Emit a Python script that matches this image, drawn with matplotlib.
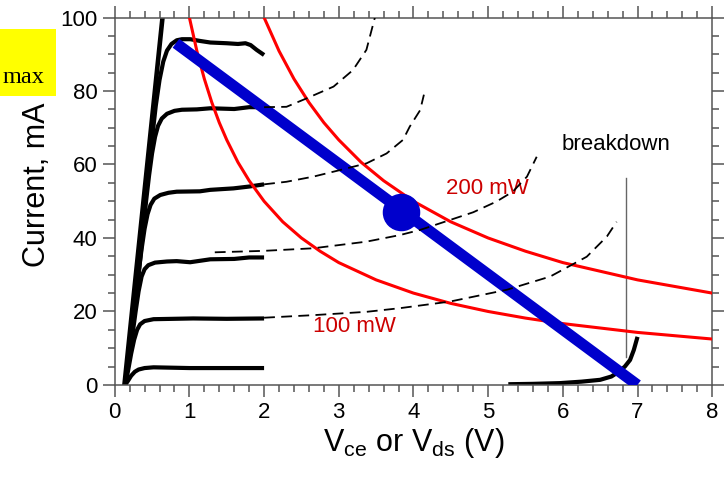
import matplotlib
matplotlib.use("Agg")
import matplotlib.pyplot as plt
from matplotlib.ticker import MultipleLocator
from matplotlib.patches import Rectangle

plt.rcParams['font.family'] = ['Liberation Sans', 'DejaVu Sans']
plt.rcParams['mathtext.fontset'] = 'custom'
plt.rcParams['mathtext.rm'] = 'Liberation Sans'

# measured transistor curves (V, mA)
steep_v = [0.13, 0.64]
steep_i = [0, 100]

c93_v = [0.14, 0.2, 0.26, 0.32, 0.38, 0.44, 0.5, 0.55, 0.6, 0.65, 0.7, 0.76, 0.83, 0.9, 1.01,
         1.15, 1.28, 1.5, 1.65, 1.75, 1.82, 1.9, 2.0]
c93_i = [0, 10, 21, 32, 44, 56, 67, 76, 83, 88, 91, 92.8, 93.8, 94.1, 94.1,
         93.6, 93.2, 93.0, 92.8, 93.0, 92.5, 91.2, 89.8]

c75_v = [0.14, 0.2, 0.26, 0.32, 0.37, 0.42, 0.46, 0.5, 0.54, 0.58, 0.63, 0.7, 0.8, 0.9,
         1.1, 1.28, 1.6, 1.8, 2.0]
c75_i = [0, 10, 20, 30, 40, 50, 57, 63, 67.5, 70.5, 72.5, 73.8, 74.6, 74.9,
         75.0, 75.3, 75.1, 75.6, 75.6]

c55_v = [0.14, 0.2, 0.26, 0.31, 0.36, 0.4, 0.44, 0.48, 0.53, 0.61, 0.72, 0.83, 1.14, 1.28,
         1.59, 1.8, 2.0]
c55_i = [0, 10, 20, 29, 37, 42.5, 46.5, 49, 50.7, 51.7, 52.3, 52.6, 52.7, 53.1,
         53.5, 54.0, 54.6]

c35_v = [0.14, 0.19, 0.24, 0.28, 0.32, 0.36, 0.4, 0.45, 0.54, 0.7, 0.83, 1.01, 1.28, 1.6, 1.8, 2.0]
c35_i = [0, 7, 14, 20, 25.5, 29.5, 31.5, 32.6, 33.3, 33.6, 33.7, 33.4, 34.2, 34.3, 34.7, 34.7]

c18_v = [0.14, 0.18, 0.22, 0.26, 0.3, 0.34, 0.4, 0.52, 1.05, 1.5, 2.0]
c18_i = [0, 4, 8.5, 12.3, 15, 16.5, 17.4, 17.9, 18.1, 18.0, 18.1]

c5_v = [0.14, 0.18, 0.22, 0.27, 0.32, 0.4, 0.52, 1.0, 2.0]
c5_i = [0, 1.2, 2.5, 3.6, 4.2, 4.6, 4.8, 4.6, 4.6]

# dashed extrapolations
d75_v = [2.0, 2.3, 2.57, 2.93, 3.19, 3.37, 3.49]
d75_i = [75.6, 75.7, 78.0, 81.2, 85.7, 91.2, 100.5]

d55_v = [2.0, 2.3, 2.66, 3.02, 3.37, 3.64, 3.86, 3.95, 4.09, 4.14]
d55_i = [54.6, 55.3, 56.7, 58.5, 60.3, 63.0, 66.7, 70.3, 74.8, 79.0]

d35_v = [1.34, 2.0, 2.66, 3.37, 3.82, 4.09, 4.49, 4.8, 5.11, 5.33, 5.52, 5.65]
d35_i = [36.1, 36.5, 37.2, 39.0, 40.8, 42.2, 44.9, 47.0, 49.9, 52.6, 56.7, 62.1]

d18_v = [2.0, 2.66, 3.37, 3.82, 4.49, 5.25, 5.83, 6.32, 6.59, 6.72]
d18_i = [18.3, 19.0, 19.9, 20.9, 22.7, 25.9, 29.5, 34.9, 40.4, 44.4]

# breakdown curve
bd_v = [5.27, 5.6, 5.96, 6.25, 6.5, 6.65, 6.75, 6.83, 6.9, 6.95, 7.0]
bd_i = [0.2, 0.3, 0.5, 0.9, 1.4, 2.3, 3.6, 5.0, 6.8, 9.5, 13.1]

# constant power curves
p100_v = [1.0, 1.1, 1.2, 1.3, 1.4, 1.5, 1.65, 1.8, 2.0, 2.25, 2.5, 2.75, 3.0, 3.5, 4.0,
          4.5, 5.0, 5.5, 6.0, 7.0, 8.0]
p100_i = [100, 90.9, 83.3, 76.9, 71.4, 66.7, 60.6, 55.6, 50, 44.4, 40, 36.4, 33.3, 28.6, 25,
          22.2, 20, 18.2, 16.7, 14.3, 12.5]
p200_v = [2.0, 2.2, 2.4, 2.6, 2.8, 3.0, 3.3, 3.6, 4.0, 4.5, 5.0, 5.5, 6.0, 7.0, 8.0]
p200_i = [100, 90.9, 83.3, 76.9, 71.4, 66.7, 60.6, 55.6, 50, 44.4, 40, 36.4, 33.3, 28.6, 25]

# load line and operating point
load_v = [0.82, 7.0]
load_i = [93, 0]
op_v = 3.83
op_i = 47.0

fig = plt.figure(figsize=(7.26, 4.8), dpi=100)
ax = fig.add_axes([0.158, 0.198, 0.823, 0.7655])

black = dict(color='black', lw=3, solid_capstyle='butt', solid_joinstyle='round', zorder=2)
for v, i in [(c93_v, c93_i), (c75_v, c75_i), (c55_v, c55_i), (c35_v, c35_i), (c18_v, c18_i), (c5_v, c5_i)]:
    ax.plot(v, i, **black)
ax.plot(steep_v, steep_i, color='black', lw=3.3, zorder=2)
ax.plot(bd_v, bd_i, **black)

ax.plot(p100_v, p100_i, color='#ff0000', lw=2.2, zorder=3)
ax.plot(p200_v, p200_i, color='#ff0000', lw=2.2, zorder=3)

ax.plot(load_v, load_i, color='#0000cc', lw=8, solid_capstyle='butt', zorder=4)
ax.plot([op_v], [op_i], 'o', color='#0000cc', ms=26, zorder=5)

for v, i in [(d75_v, d75_i), (d55_v, d55_i), (d35_v, d35_i), (d18_v, d18_i)]:
    ax.plot(v, i, color='black', lw=1.3, dashes=(6, 3.5), zorder=6)

ax.plot([6.85, 6.85], [7.7, 56.2], color='#666666', lw=1, zorder=2)
ax.text(6.71, 63.9, 'breakdown', fontsize=16, ha='center', va='baseline')
ax.text(4.44, 52.1, '200 mW', fontsize=16, color='#cc0000', ha='left', va='baseline')
ax.text(2.66, 14.5, '100 mW', fontsize=16, color='#cc0000', ha='left', va='baseline')

ax.set_xlim(0, 8)
ax.set_ylim(0, 100)
ax.xaxis.set_major_locator(MultipleLocator(1))
ax.xaxis.set_minor_locator(MultipleLocator(0.2))
ax.yaxis.set_major_locator(MultipleLocator(20))
ax.yaxis.set_minor_locator(MultipleLocator(5))
ax.tick_params(which='both', direction='out', top=True, right=True, color='#555555', width=1.1)
ax.tick_params(which='major', length=8.5, labelsize=16, pad=4)
ax.tick_params(which='minor', length=4.8)
for s in ax.spines.values():
    s.set_color('#555555')
    s.set_linewidth(1.1)

ax.set_xlabel(r'V$_{\mathregular{ce}}$ or V$_{\mathregular{ds}}$ (V)', fontsize=22, labelpad=2)
fig.text(0.051, 0.615, 'Current, mA', fontsize=22, rotation=90, ha='center', va='center')

fig.patches.append(Rectangle((0, 1 - 96 / 480), 56 / 726, 67 / 480, transform=fig.transFigure,
                             facecolor='#ffff00', edgecolor='none', zorder=0))
fig.text(3 / 726, 1 - 83 / 480, 'max', fontsize=17.5, family=['Liberation Serif', 'DejaVu Serif'],
         ha='left', va='baseline')

fig.savefig('out.png', dpi=100)
